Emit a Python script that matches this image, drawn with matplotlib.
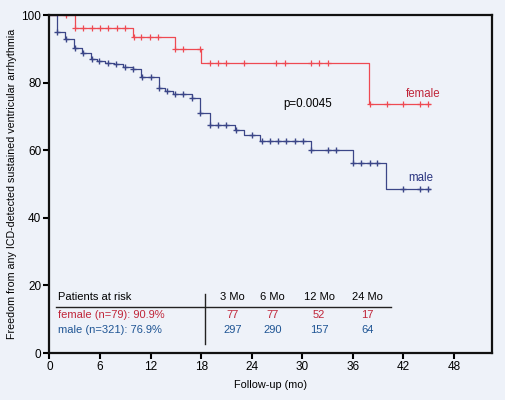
import numpy as np
import matplotlib
matplotlib.use('Agg')
import matplotlib.pyplot as plt

plt.rcParams['font.family'] = ['Liberation Sans', 'DejaVu Sans']

# Kaplan-Meier curves: step times (mo) and survival (%)
female_t = [0, 3.0, 9.9, 14.9, 18.0, 37.9, 45.2]
female_s = [100, 96.2, 93.6, 89.8, 85.9, 73.6, 73.6]
female_cens = [2.0, 3.0, 4.0, 5.0, 6.0, 7.0, 8.0, 9.0, 10.0, 10.9, 11.9, 12.9,
               14.9, 15.9, 17.9, 19.0, 20.0, 21.0, 23.1, 26.9, 28.0, 31.0, 32.0, 33.0,
               38.0, 40.0, 42.0, 44.0, 44.9]

male_t = [0, 0.9, 1.8, 2.9, 3.9, 4.9, 5.6, 6.6, 7.6, 8.75, 9.9, 10.9, 13.0, 13.7,
          14.6, 16.9, 17.9, 19.0, 22.0, 23.1, 25.0, 31.0, 36.0, 39.9, 45.2]
male_s = [100, 94.9, 92.8, 90.3, 88.7, 87.0, 86.5, 85.9, 85.4, 84.7, 84.1, 81.6, 78.3, 77.5,
          76.5, 75.5, 70.9, 67.4, 66.0, 64.6, 62.8, 60.2, 56.3, 48.4, 48.4]
male_cens = [0.9, 2.0, 3.0, 4.0, 5.0, 5.9, 6.9, 7.9, 9.0, 9.9, 11.0, 12.0, 13.0, 13.9,
             14.9, 15.9, 16.9, 17.9, 19.0, 20.0, 21.0, 22.1, 24.0, 25.2, 26.2, 27.1,
             28.1, 29.1, 30.1, 31.0, 33.0, 34.0, 36.0, 37.0, 38.0, 38.9, 42.0, 44.0, 44.9]

# patients-at-risk table
risk_cols = ['3 Mo', '6 Mo', '12 Mo', '24 Mo']
risk_x = [21.7, 26.5, 32.0, 37.7]
female_risk = ['77', '77', '52', '17']
male_risk = ['297', '290', '157', '64']

bg = '#eef2f9'
red_line = '#ee4a52'
blue_line = '#3b4688'
red_txt = '#c0263a'
blue_txt = '#1f5594'


def at(t, ts, ss):
    i = np.searchsorted(ts, t, side='right') - 1
    return ss[i]


fig = plt.figure(figsize=(5.05, 4.0), dpi=100, facecolor=bg)
ax = fig.add_axes([0.098, 0.1175, 0.876, 0.845], facecolor=bg)

ax.step(female_t, female_s, where='post', color=red_line, lw=0.9)
ax.plot(female_cens, [at(t, female_t, female_s) for t in female_cens], '+',
        color=red_line, ms=4.5, mew=0.9)
ax.step(male_t, male_s, where='post', color=blue_line, lw=0.9)
ax.plot(male_cens, [at(t, male_t, male_s) for t in male_cens], '+',
        color=blue_line, ms=4.5, mew=1.0)

ax.set_xlim(0, 52.5)
ax.set_ylim(0, 100)
ax.set_xticks(range(0, 49, 6))
ax.set_yticks(range(0, 101, 20))
ax.tick_params(direction='out', length=4, width=1.5, labelsize=8.5, pad=2)
for s in ax.spines.values():
    s.set_linewidth(1.6)
    s.set_color('#111111')

ax.set_xlabel('Follow-up (mo)', fontsize=7.8, labelpad=5)
ax.set_ylabel('Freedom from any ICD-detected sustained ventricular arrhythmia',
              fontsize=7.7, labelpad=3)

ax.text(42.3, 76.6, 'female', color=red_txt, fontsize=8.3, va='center')
ax.text(42.6, 51.7, 'male', color='#2a3580', fontsize=8.3, va='center')
ax.text(27.7, 73.6, 'p=0.0045', color='black', fontsize=8.3, va='center')

# at-risk table
ax.plot([0.8, 40.5], [13.7, 13.7], color='#222222', lw=1.0)
ax.plot([18.5, 18.5], [2.7, 17.4], color='#222222', lw=1.0)
ax.text(1.0, 16.5, 'Patients at risk', fontsize=8, va='center')
ax.text(1.0, 11.2, 'female (n=79): 90.9%', fontsize=8, va='center', color=red_txt)
ax.text(1.0, 6.8, 'male (n=321): 76.9%', fontsize=8, va='center', color=blue_txt)
for x, c, f, m in zip(risk_x, risk_cols, female_risk, male_risk):
    ax.text(x, 16.5, c, fontsize=8, ha='center', va='center')
    ax.text(x, 11.2, f, fontsize=8, ha='center', va='center', color=red_txt)
    ax.text(x, 6.8, m, fontsize=8, ha='center', va='center', color=blue_txt)

fig.savefig('out.png', dpi=100, facecolor=bg)
